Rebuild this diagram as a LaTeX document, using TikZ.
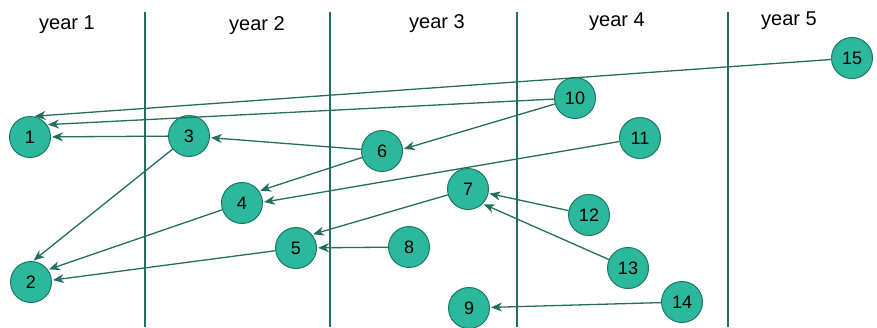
\documentclass[tikz,border=0pt]{standalone}
\usepackage{fontspec}
\setmainfont{Liberation Sans}
\usetikzlibrary{arrows.meta}
\definecolor{nodefill}{RGB}{44,184,156}
\definecolor{nodeline}{RGB}{30,120,100}
\definecolor{edgecol}{RGB}{35,110,95}
\begin{document}
\begin{tikzpicture}[x=1pt,y=-1pt,
  yr/.style={circle,draw=nodeline,fill=nodefill,line width=1pt,minimum size=41pt,inner sep=0pt,font=\fontsize{18}{18}\selectfont},
  lbl/.style={font=\fontsize{20}{20}\selectfont},
  sep/.style={draw=edgecol,line width=1.2pt},
  arr/.style={draw=edgecol,line width=1.3pt,-{Stealth[length=11pt,width=9pt,inset=3.5pt]},shorten >=1pt}]
\useasboundingbox (0,0) rectangle (877,327);
\coordinate (s1t) at (145,12); \coordinate (s1b) at (145,327);
\coordinate (s2t) at (330,12); \coordinate (s2b) at (330,327);
\coordinate (s3t) at (517,12); \coordinate (s3b) at (517,327);
\coordinate (s4t) at (728,12); \coordinate (s4b) at (728,327);
\draw[sep] (s1t) -- (s1b);
\draw[sep] (s2t) -- (s2b);
\draw[sep] (s3t) -- (s3b);
\draw[sep] (s4t) -- (s4b);
\node[lbl] (y1) at (67,25) {year 1};
\node[lbl] (y2) at (257,26) {year 2};
\node[lbl] (y3) at (437,24) {year 3};
\node[lbl] (y4) at (617,22) {year 4};
\node[lbl] (y5) at (789,21) {year 5};
\node[yr] (n1) at (30,137) {1};
\node[yr] (n2) at (31,282) {2};
\node[yr] (n3) at (189,136) {3};
\node[yr] (n4) at (242,203) {4};
\node[yr] (n5) at (296,248) {5};
\node[yr] (n6) at (382,151) {6};
\node[yr] (n7) at (468,189) {7};
\node[yr] (n8) at (409,247) {8};
\node[yr] (n9) at (469,308) {9};
\node[yr] (n10) at (575,98) {10};
\node[yr] (n11) at (640,138) {11};
\node[yr] (n12) at (589,215) {12};
\node[yr] (n13) at (628,268) {13};
\node[yr] (n14) at (682,302) {14};
\node[yr] (n15) at (852,58) {15};
\draw[arr] (n15) -- (n1.80);
\draw[arr] (n10) -- (n1.36);
\draw[arr] (n3) -- (n1);
\draw[arr] (n10) -- (n6.5);
\draw[arr] (n6) -- (n3);
\draw[arr] (n6) -- (n4.35);
\draw[arr] (n11) -- (n4.2);
\draw[arr] (n3) -- (n2.85);
\draw[arr] (n4) -- (n2.36);
\draw[arr] (n5) -- (n2.5);
\draw[arr] (n7) -- (n5.40);
\draw[arr] (n8) -- (n5);
\draw[arr] (n12) -- (n7);
\draw[arr] (n13) -- (n7.-45);
\draw[arr] (n14) -- (n9);
\end{tikzpicture}
\end{document}
